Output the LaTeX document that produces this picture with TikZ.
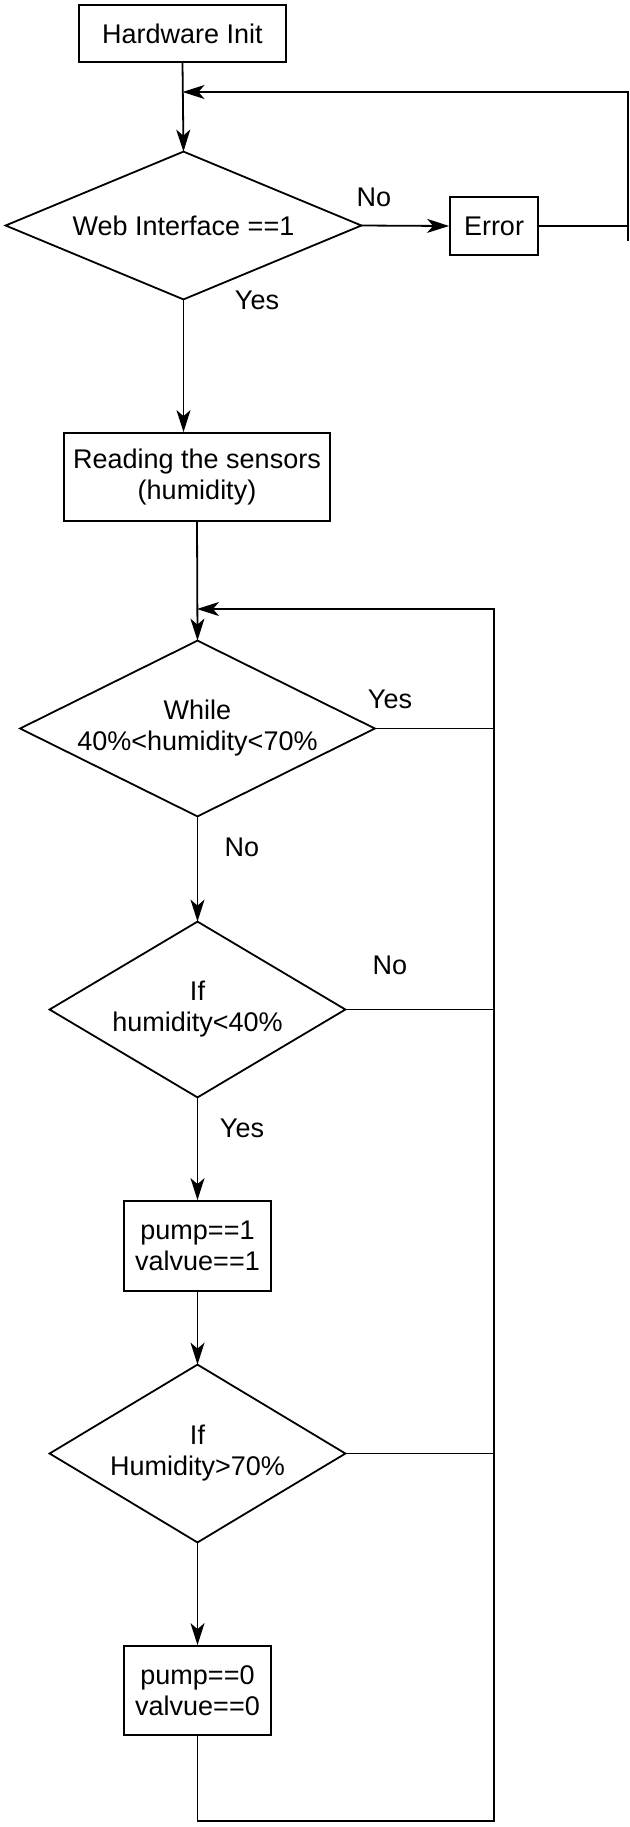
\documentclass[tikz,border=0pt]{standalone}
\usepackage{fontspec}
\setmainfont{Liberation Sans}
\usetikzlibrary{arrows.meta}
\newcommand{\lab}{\fontsize{13.5}{15.5}\selectfont}
\begin{document}
\begin{tikzpicture}[x=0.5pt,y=-0.5pt,
  ln/.style={line width=0.9pt},
  box/.style={draw, ln, rectangle, inner sep=0pt, align=center, font=\lab},
  diabox/.style={rectangle, inner sep=0pt, align=center, font=\lab},
  lbl/.style={font=\lab, inner sep=0pt},
  arr/.style={ln, -{Stealth[length=11pt,width=7pt,inset=3pt]}}]
\useasboundingbox (0,0) rectangle (630,1827);
% nodes
\node[box, minimum width=103.5pt, minimum height=28.5pt] (hw) at (182.5,33.5) {Hardware Init};
\node[diabox, minimum width=177.5pt, minimum height=73.5pt] (web) at (183.5,225.5) {Web Interface ==1};
\node[box, minimum width=44pt, minimum height=29pt] (err) at (494,226) {Error};
\node[box, minimum width=133pt, minimum height=44pt] (read) at (197,477) {Reading the sensors\\(humidity)};
\node[diabox, minimum width=177pt, minimum height=87.5pt] (wh) at (197.5,728.5) {While\\40\%<humidity<70\%};
\node[diabox, minimum width=147.5pt, minimum height=87.5pt] (if40) at (197.5,1009.5) {If\\humidity<40\%};
\node[box, minimum width=73.5pt, minimum height=45pt] (p1) at (197.5,1246) {pump==1\\valvue==1};
\node[diabox, minimum width=147.5pt, minimum height=88.5pt] (if70) at (197.5,1453.5) {If\\Humidity>70\%};
\node[box, minimum width=73.5pt, minimum height=44.5pt] (p0) at (197.5,1690.5) {pump==0\\valvue==0};
% diamonds
\foreach \n in {web,wh,if40,if70}
  \draw[ln] (\n.north) -- (\n.east) -- (\n.south) -- (\n.west) -- cycle;
% helper coordinates
\coordinate (rt) at (628,92);
\coordinate (rb) at (628,241);
\coordinate (lr) at (494,609);
\coordinate (bot) at (494,1821);
% labels
\node[lbl] (lno1) at (374,197) {No};
\node[lbl] (lyes1) at (257,300) {Yes};
\node[lbl] (lyes2) at (390,699) {Yes};
\node[lbl] (lno2) at (242,847) {No};
\node[lbl] (lno3) at (390,965) {No};
\node[lbl] (lyes3) at (242,1128) {Yes};
% connectors
\draw[arr] (hw.south) -- (web.north);
\draw[arr] (web.east) -- (err.west);
\draw[ln] (err.east) -- (err.east -| rt);
\draw[arr] (rb) -- (rt) -- (hw.south |- rt);
\draw[arr] (web.south) -- (web.south |- read.north);
\draw[arr] (read.south) -- (wh.north);
\draw[ln] (wh.east) -- (wh.east -| lr);
\draw[arr] (wh.south) -- (if40.north);
\draw[ln] (if40.east) -- (if40.east -| lr);
\draw[arr] (if40.south) -- (p1.north);
\draw[arr] (p1.south) -- (if70.north);
\draw[ln] (if70.east) -- (if70.east -| lr);
\draw[arr] (if70.south) -- (p0.north);
\draw[arr] (p0.south) -- (p0.south |- bot) -- (bot) -- (lr) -- (read.south |- lr);
\end{tikzpicture}
\end{document}
